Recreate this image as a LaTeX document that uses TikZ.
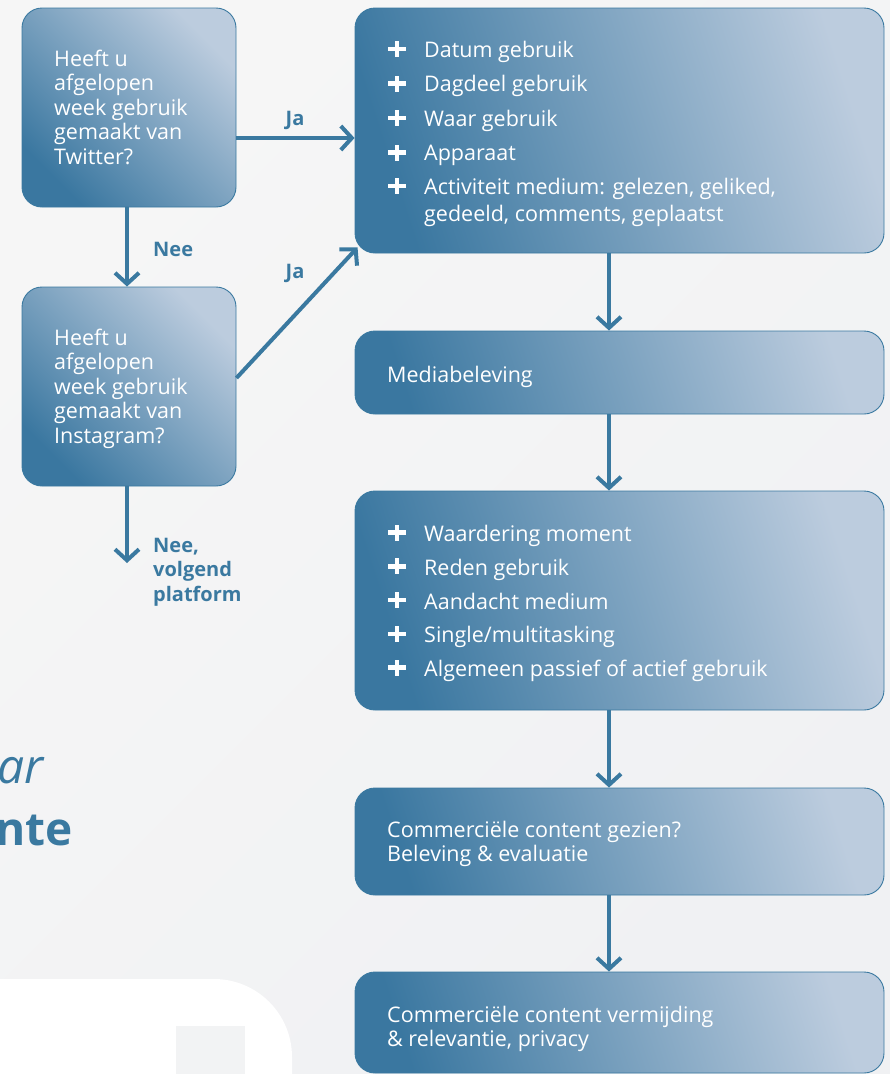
\documentclass[tikz,border=0pt]{standalone}
\usepackage{fontspec}
\setmainfont{Open Sans}
\usetikzlibrary{arrows.meta,calc}
\definecolor{bg}{HTML}{F2F3F4}
\definecolor{bgl}{HTML}{F6F6F6}
\definecolor{bgd}{HTML}{F0F1F3}
\definecolor{dk}{HTML}{3A77A0}
\definecolor{lt}{HTML}{BCCCDE}
\definecolor{ln}{HTML}{3A79A0}
\newcommand{\mlines}[1]{\begin{tabular}[t]{@{}l@{}}#1\end{tabular}}
\tikzset{
  plusmark/.pic={
    \fill[white] (-9,-2.3) rectangle (9,2.3);
    \fill[white] (-2.3,-8) rectangle (2.3,8);
  }
}
\begin{document}
\begin{tikzpicture}[x=1pt,y=-1pt,
  box/.style={rectangle, rounded corners=20pt, draw=ln, line width=0.9pt, inner sep=0pt,
    top color=dk, bottom color=lt, shading angle=135},
  wbox/.style={box, shading angle=108},
  boxtext/.style={anchor=base west, text=white, inner sep=0pt,
    font=\fontsize{21.5}{24.5}\selectfont},
  lbl/.style={text=ln, inner sep=0pt, font=\fontsize{20}{24.5}\selectfont\bfseries},
  conn/.style={draw=ln, line width=4pt, -{Straight Barb[length=11pt,width=24pt]}},
  big/.style={text=ln, inner sep=0pt, anchor=base east}
]
\useasboundingbox (0,0) rectangle (890,1074);
\shade[top color=bgl, bottom color=bgd, shading angle=45] (0,0) rectangle (890,1074);

% bottom-left decoration
\fill[white] (-5,979) -- (214,979) arc[start angle=-90, end angle=0, radius=78] -- (292,1080) -- (-5,1080) -- cycle;
\fill[bg] (176,1026) rectangle (245,1080);
\node[big, font=\fontsize{48}{50}\selectfont\itshape] (partA) at (44,783) {ar};
\node[big, font=\fontsize{46}{50}\selectfont\bfseries] (partB) at (73,845) {nte};

% boxes
\node[box, minimum width=214pt, minimum height=199pt] (tw) at (129,107.5) {};
\node[box, minimum width=214pt, minimum height=199pt] (ig) at (129,386.5) {};
\node[wbox, minimum width=529pt, minimum height=245pt] (r1) at (619.5,130.5) {};
\node[wbox, minimum width=529pt, minimum height=83pt] (med) at (619.5,372.5) {};
\node[wbox, minimum width=529pt, minimum height=219pt] (r3) at (619.5,600.5) {};
\node[wbox, minimum width=529pt, minimum height=107pt] (r4) at (619.5,841.5) {};
\node[wbox, minimum width=529pt, minimum height=101pt] (r5) at (619.5,1022.5) {};

% left box texts
\node[boxtext] (twt) at (54,66) {\mlines{Heeft u\\afgelopen\\week gebruik\\gemaakt van\\Twitter?}};
\node[boxtext] (igt) at (54,345) {\mlines{Heeft u\\afgelopen\\week gebruik\\gemaakt van\\Instagram?}};

% right box 1 items
\foreach \yy/\tx [count=\i] in {57/{Datum gebruik}, 91.5/{Dagdeel gebruik}, 126/{Waar gebruik}, 160.5/{Apparaat}} {
  \pic at (397,\yy-8) {plusmark};
  \node[boxtext] (a\i) at (424,\yy) {\tx};
}
\pic at (397,186) {plusmark};
\node[boxtext, font=\fontsize{21.5}{26.5}\selectfont] (a5) at (424,194.5) {\mlines{Activiteit medium: gelezen, geliked,\\gedeeld, comments, geplaatst}};

\node[boxtext] (medt) at (387,382) {Mediabeleving};

% box 3 items
\foreach \yy/\tx [count=\i] in {541.5/{Waardering moment}, 575.3/{Reden gebruik}, 609.1/{Aandacht medium}, 642.9/{Single/multitasking}, 676.7/{Algemeen passief of actief gebruik}} {
  \pic at (397,\yy-9) {plusmark};
  \node[boxtext] (b\i) at (424,\yy) {\tx};
}

\node[boxtext] (r4t) at (387,837) {\mlines{Commerciële content gezien?\\Beleving \& evaluatie}};
\node[boxtext] (r5t) at (387,1022) {\mlines{Commerciële content vermijding\\\& relevantie, privacy}};

% connectors
\coordinate (ax) at (609,0);
\coordinate (jay) at (0,138);
\coordinate (next) at (127,563);
\draw[conn] (tw.east |- jay) -- (r1.west |- jay);
\draw[conn] (tw.south -| next) -- (ig.north -| next);
\draw[conn] (ig.east |- 0,378) -- ([shift={(3,-6)}]r1.south west);
\draw[conn] (ig.south -| next) -- (next);
\draw[conn] (r1.south -| ax) -- (med.north -| ax);
\draw[conn] (med.south -| ax) -- (r3.north -| ax);
\draw[conn] (r3.south -| ax) -- (r4.north -| ax);
\draw[conn] (r4.south -| ax) -- (r5.north -| ax);

% labels
\node[lbl, anchor=base] (ja1) at (295,125) {Ja};
\node[lbl, anchor=base west] (nee1) at (153,256) {Nee};
\node[lbl, anchor=base] (ja2) at (295,278) {Ja};
\node[lbl, anchor=base west] (nee2) at (153,552) {\mlines{Nee,\\volgend\\platform}};
\end{tikzpicture}
\end{document}
